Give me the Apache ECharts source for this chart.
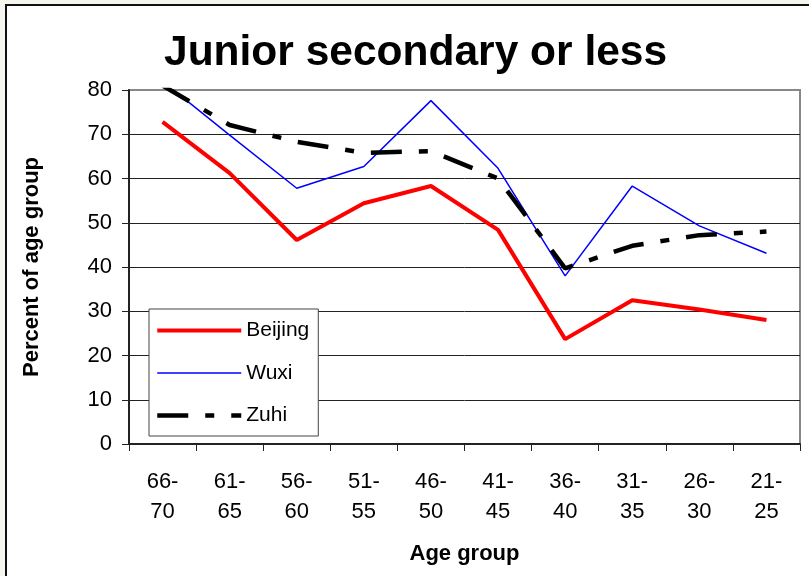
<!DOCTYPE html>
<html>
<head>
<meta charset="utf-8">
<script src="https://cdn.jsdelivr.net/npm/echarts@6/dist/echarts.min.js"></script>
<style>
  html, body { margin: 0; padding: 0; background: #f6f6ee; }
  #paper { position: absolute; left: 5px; top: 3.5px; width: 830px; height: 600px; background: #fff; border-left: 2px solid #111; border-top: 2px solid #111; }
  #chart { position: absolute; left: 0; top: 0; width: 809px; height: 576px; }
</style>
</head>
<body>
<div id="paper"></div>
<div id="chart"></div>
<script>
const categories = ['66-\n70', '61-\n65', '56-\n60', '51-\n55', '46-\n50', '41-\n45', '36-\n40', '31-\n35', '26-\n30', '21-\n25'];
const beijing = [72.8, 61.2, 46.1, 54.4, 58.3, 48.4, 23.7, 32.5, 30.4, 28.0];
const wuxi = [82.0, 69.8, 57.8, 62.7, 77.6, 62.3, 38.0, 58.3, 49.3, 43.1];
const zuhi = [81.0, 72.1, 68.3, 65.8, 66.2, 60.0, 39.7, 44.8, 47.2, 48.0];
const yTicks = [0, 10, 20, 30, 40, 50, 60, 70, 80];

const chart = echarts.init(document.getElementById('chart'), null, { renderer: 'canvas' });
const font = 'Liberation Sans, Arial, sans-serif';
const zuhiDash = [31, 17, 9, 17];
chart.setOption({
  backgroundColor: 'transparent',
  animation: false,
  title: {
    text: 'Junior secondary or less',
    left: 159,
    top: 27,
    textStyle: { fontFamily: font, fontSize: 42.5, fontWeight: 'bold', color: '#000' }
  },
  legend: {
    orient: 'vertical',
    left: 149,
    top: 309,
    padding: [11, 9, 10, 6],
    itemWidth: 84,
    itemHeight: 20,
    itemGap: 21.5,
    backgroundColor: '#fff',
    borderColor: '#444',
    borderWidth: 1,
    itemStyle: { opacity: 0 },
    textStyle: { fontFamily: font, fontSize: 21, color: '#000' },
    data: [
      { name: 'Beijing', lineStyle: { width: 4, color: '#ff0000' } },
      { name: 'Wuxi', lineStyle: { width: 1.5, color: '#0000ff' } },
      { name: 'Zuhi', lineStyle: { width: 4.5, color: '#000', type: zuhiDash } }
    ]
  },
  grid: {
    left: 129, right: 9, top: 90, bottom: 132,
    show: true, borderColor: '#888', borderWidth: 2, backgroundColor: '#fff'
  },
  xAxis: {
    type: 'category',
    data: categories,
    boundaryGap: true,
    name: 'Age group',
    nameLocation: 'middle',
    nameGap: 99,
    nameTextStyle: { fontFamily: font, fontSize: 22, fontWeight: 'bold', color: '#000' },
    axisLine: { lineStyle: { color: '#222', width: 2 } },
    axisTick: { show: true, length: 7, interval: 0, lineStyle: { color: '#222' } },
    axisLabel: { interval: 0, margin: 23, fontFamily: font, fontSize: 22, lineHeight: 30, color: '#000' }
  },
  yAxis: {
    type: 'value',
    min: 0, max: 80, interval: 10,
    name: 'Percent of age group',
    nameLocation: 'middle',
    nameGap: 86,
    nameTextStyle: { fontFamily: font, fontSize: 22, fontWeight: 'bold', color: '#000' },
    axisLine: { show: true, lineStyle: { color: '#222', width: 2 } },
    axisTick: { show: true, length: 7, lineStyle: { color: '#222' } },
    axisLabel: {
      margin: 17, fontFamily: font, fontSize: 22, color: '#000',
      formatter: v => (yTicks.indexOf(v) >= 0 ? String(v) : '')
    },
    splitLine: { show: true, showMaxLine: false, lineStyle: { color: '#222', width: 1 } }
  },
  series: [
    {
      name: 'Beijing', type: 'line', data: beijing, symbol: 'none', clip: true,
      lineStyle: { color: '#ff0000', width: 4 }, itemStyle: { color: '#ff0000' }, z: 3
    },
    {
      name: 'Wuxi', type: 'line', data: wuxi, symbol: 'none', clip: true,
      lineStyle: { color: '#0000ff', width: 1.5 }, itemStyle: { color: '#0000ff' }, z: 3
    },
    {
      name: 'Zuhi', type: 'line', data: zuhi, symbol: 'none', clip: true,
      lineStyle: { color: '#000', width: 4.5, type: zuhiDash, cap: 'butt' }, itemStyle: { color: '#000' }, z: 4
    }
  ]
});
</script>
</body>
</html>
